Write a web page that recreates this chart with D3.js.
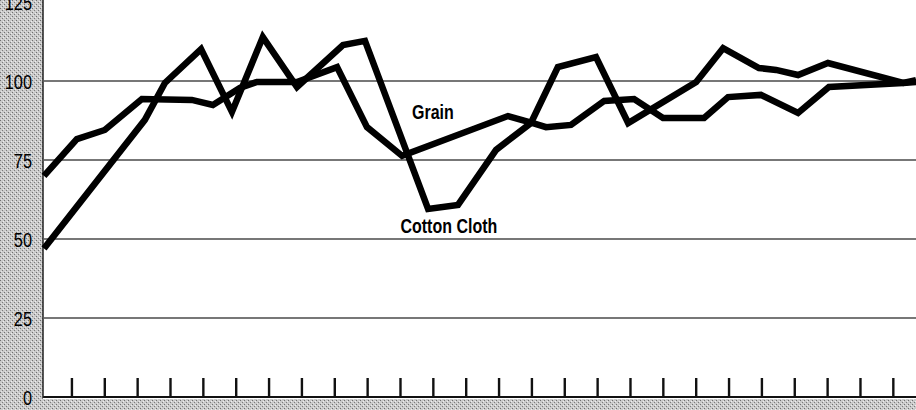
<!DOCTYPE html>
<html>
<head>
<meta charset="utf-8">
<script src="https://cdn.jsdelivr.net/npm/d3@7"></script>
<style>
  html, body { margin: 0; padding: 0; background: #fff; }
  svg { display: block; }
  .lbl { font-family: "Liberation Sans", Arial, sans-serif; fill: #000; }
</style>
</head>
<body>
<svg id="chart"></svg>
<script>
// index values, 100 = base period; x = position along the period axis (tick units)
const yTicks = [0, 25, 50, 75, 100, 125];
const periodTicks = d3.range(0, 26);

const grainX = [-0.85, 0.15, 1.0, 2.13, 3.65, 4.29, 5.11, 5.63, 6.85, 8.07, 8.98, 10.05, 13.27, 14.03, 14.43, 15.19, 16.2, 17.11, 17.99, 19.24, 19.97, 20.97, 22.1, 23.04, 25.3, 25.69];
const grainY = [70, 81.6, 84.5, 94.3, 94.0, 92.4, 97.8, 99.7, 99.7, 104.4, 85.4, 76.3, 88.9, 86.7, 85.4, 86.1, 93.7, 94.3, 88.3, 88.3, 94.9, 95.6, 89.9, 98.1, 99.4, 99.7];

const cottonX = [-0.85, 2.22, 2.83, 3.93, 4.87, 5.81, 6.85, 8.25, 8.92, 10.84, 11.75, 12.91, 13.97, 14.79, 15.95, 16.93, 19.0, 19.82, 20.91, 21.43, 22.1, 23.01, 25.3, 25.69];
const cottonY = [47, 87.7, 99.4, 110.1, 90.2, 113.9, 98.1, 111.4, 112.7, 59.5, 60.8, 78.2, 86.7, 104.4, 107.6, 86.7, 99.7, 110.4, 104.1, 103.5, 101.9, 105.7, 99.4, 100.3];

const series = [
  {name: "Grain", xs: grainX, ys: grainY, labelAt: [10.35, 88]},
  {name: "Cotton Cloth", xs: cottonX, ys: cottonY, labelAt: [10.0, 51.9]}
];

const width = 916, height = 410;
const margin = {left: 44, right: 916, top: 2, bottom: 397};

const svg = d3.select("#chart").attr("width", width).attr("height", height);

// halftone-ish texture for the margins
const defs = svg.append("defs");
const pat = defs.append("pattern")
  .attr("id", "screen")
  .attr("width", 4).attr("height", 4)
  .attr("patternUnits", "userSpaceOnUse");
pat.append("rect").attr("width", 4).attr("height", 4).attr("fill", "#cacaca");
pat.append("rect").attr("x", 0).attr("y", 0).attr("width", 1).attr("height", 1).attr("fill", "#707070");
pat.append("rect").attr("x", 2).attr("y", 2).attr("width", 1).attr("height", 1).attr("fill", "#7c7c7c");
pat.append("rect").attr("x", 3).attr("y", 1).attr("width", 1).attr("height", 1).attr("fill", "#eeeeee");
pat.append("rect").attr("x", 1).attr("y", 3).attr("width", 1).attr("height", 1).attr("fill", "#e4e4e4");

const x = d3.scaleLinear().domain([-0.85, 25.69]).range([margin.left, margin.right]);
const y = d3.scaleLinear().domain([0, 125]).range([margin.bottom, margin.top]);

svg.append("rect").attr("x", 0).attr("y", 0).attr("width", margin.left - 1).attr("height", height).attr("fill", "url(#screen)");
svg.append("rect").attr("x", 0).attr("y", margin.bottom + 2).attr("width", width).attr("height", height - margin.bottom - 2).attr("fill", "url(#screen)");

// horizontal rules
svg.append("g")
  .selectAll("line")
  .data(yTicks.filter(d => d > 0 && d < 125))
  .join("line")
  .attr("x1", margin.left).attr("x2", margin.right)
  .attr("y1", d => y(d)).attr("y2", d => y(d))
  .attr("stroke", "#4a4a4a")
  .attr("stroke-width", 1.3);

// baseline and left axis
svg.append("line")
  .attr("x1", margin.left - 1).attr("x2", margin.right)
  .attr("y1", y(0)).attr("y2", y(0))
  .attr("stroke", "#111").attr("stroke-width", 2.2);
svg.append("line")
  .attr("x1", margin.left - 1).attr("x2", margin.left - 1)
  .attr("y1", 0).attr("y2", y(0) + 1)
  .attr("stroke", "#222").attr("stroke-width", 1.5);

// tick marks along the base
svg.append("g")
  .selectAll("line")
  .data(periodTicks)
  .join("line")
  .attr("x1", d => x(d)).attr("x2", d => x(d))
  .attr("y1", y(0)).attr("y2", y(0) - 19)
  .attr("stroke", "#111")
  .attr("stroke-width", 2.4);

// y labels (condensed by horizontal squeeze)
svg.append("g")
  .selectAll("text")
  .data(yTicks)
  .join("text")
  .attr("class", "lbl")
  .attr("transform", d => `translate(32,${y(d) + 7.5}) scale(0.78,1)`)
  .attr("text-anchor", "end")
  .style("font-size", "21px")
  .style("font-weight", 500)
  .text(d => d);

// series lines
const line = d3.line()
  .x(d => x(d[0]))
  .y(d => y(d[1]));

series.forEach(s => {
  const pts = s.xs.map((v, i) => [v, s.ys[i]]);
  svg.append("path")
    .datum(pts)
    .attr("d", line)
    .attr("fill", "none")
    .attr("stroke", "#000")
    .attr("stroke-width", 6.5)
    .attr("stroke-linejoin", "miter")
    .attr("stroke-miterlimit", 4);

  svg.append("text")
    .attr("class", "lbl")
    .attr("transform", `translate(${x(s.labelAt[0])},${y(s.labelAt[1])}) scale(0.82,1)`)
    .style("font-size", "19.5px")
    .style("font-weight", "bold")
    .text(s.name);
});
</script>
</body>
</html>
